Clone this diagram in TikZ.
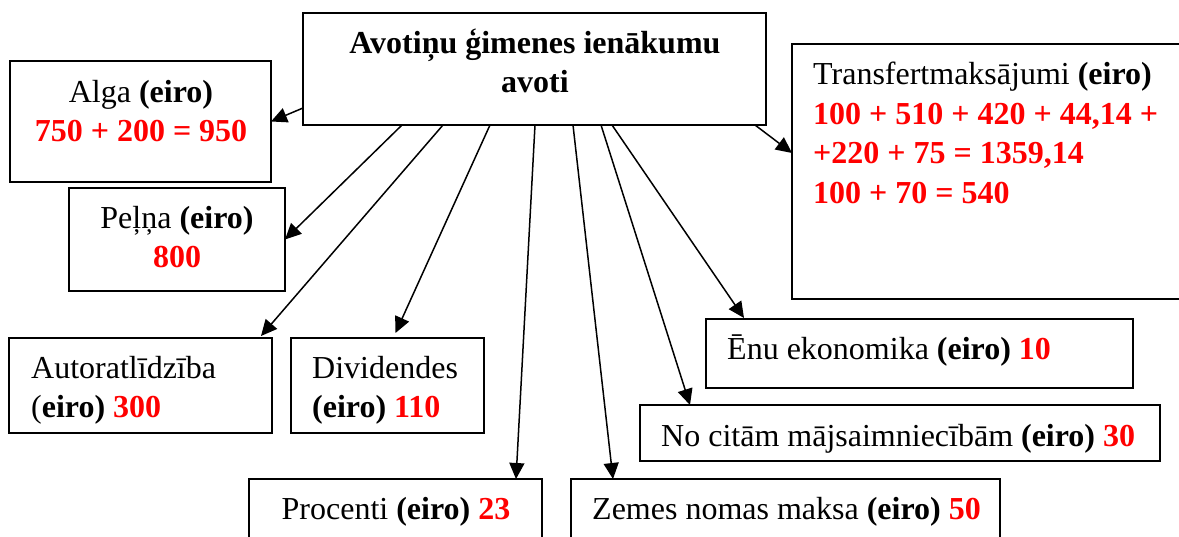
\documentclass[tikz,border=0pt]{standalone}
\usepackage{fontspec}
\setmainfont{Liberation Serif}
\usetikzlibrary{arrows.meta,calc}
\definecolor{numred}{RGB}{255,0,0}
\newcommand{\rednum}[1]{\textcolor{numred}{\textbf{#1}}}
\begin{document}
\begin{tikzpicture}[x=1pt,y=-1pt,
  box/.style={draw, line width=1.8pt, inner sep=0pt, outer sep=0pt, anchor=north west},
  arr/.style={line width=1.5pt, -{Triangle[length=16pt,width=15pt]}},
  txt/.style={inner sep=0pt, anchor=base west, font=\fontsize{32}{38}\selectfont},
  ctxt/.style={txt, anchor=base},
]
\useasboundingbox (0,0) rectangle (1179,536);
\clip (0,0) rectangle (1179,536);

% boxes
\node[box, minimum width=463pt, minimum height=112pt] (c) at (303,13) {};
\node[box, minimum width=261pt, minimum height=121pt] (alga) at (10,61) {};
\node[box, minimum width=216pt, minimum height=103pt] (pelna) at (69,188) {};
\node[box, minimum width=390pt, minimum height=255pt] (transf) at (792,44) {};
\node[box, minimum width=263pt, minimum height=95pt] (autor) at (9,338) {};
\node[box, minimum width=193pt, minimum height=95pt] (divid) at (291,338) {};
\node[box, minimum width=293pt, minimum height=80pt] (procenti) at (249,479) {};
\node[box, minimum width=429pt, minimum height=80pt] (zemes) at (571,479) {};
\node[box, minimum width=427pt, minimum height=69pt] (enu) at (706,319) {};
\node[box, minimum width=520pt, minimum height=56pt] (nocitam) at (640,405) {};

% texts
\node[ctxt] (ct1) at (535,53) {\bfseries Avotiņu ģimenes ienākumu};
\node[ctxt] (ct2) at (535,92) {\bfseries avoti};
\node[ctxt] (at1) at (141,102) {Alga \textbf{(eiro)}};
\node[ctxt] (at2) at (141,141) {\rednum{750 + 200 = 950}};
\node[ctxt] (pt1) at (177,228) {Peļņa \textbf{(eiro)}};
\node[ctxt] (pt2) at (177,267) {\rednum{800}};
\node[txt] (tt1) at (813,84) {Transfertmaksājumi \textbf{(eiro)}};
\node[txt] (tt2) at (813,124) {\rednum{100 + 510 + 420 + 44,14 +}};
\node[txt] (tt3) at (813,163) {\rednum{+220 + 75 = 1359,14}};
\node[txt] (tt4) at (813,203) {\rednum{100 + 70 = 540}};
\node[txt] (aut1) at (31,378) {Autoratlīdzība};
\node[txt] (aut2) at (31,417) {(\textbf{eiro)} \rednum{300}};
\node[txt] (dv1) at (312,378) {Dividendes};
\node[txt] (dv2) at (312,417) {\textbf{(eiro)} \rednum{110}};
\node[ctxt] (prt) at (396,519) {Procenti \textbf{(eiro)} \rednum{23}};
\node[txt] (zt) at (592,519) {Zemes nomas maksa \textbf{(eiro)} \rednum{50}};
\node[txt] (et) at (727,359) {Ēnu ekonomika \textbf{(eiro)} \rednum{10}};
\node[txt] (nt) at (661,446) {No citām mājsaimniecībām \textbf{(eiro)} \rednum{30}};

% arrows
\draw[arr] ($(c.south west)+(0,-17)$) -- (alga.east);
\draw[arr] ($(c.south west)+(99,0)$) -- (pelna.east);
\draw[arr] ($(c.south west)+(140,0)$) -- ($(autor.north east)+(-11,-2)$);
\draw[arr] ($(c.south west)+(187,0)$) -- ($(divid.north)+(8,-5)$);
\draw[arr] ($(c.south west)+(232,0)$) -- ($(procenti.north east)+(-26,0)$);
\draw[arr] ($(c.south west)+(270,0)$) -- ($(zemes.north west)+(42,0)$);
\draw[arr] ($(c.south west)+(298,0)$) -- ($(nocitam.north west)+(50,0)$);
\draw[arr] ($(c.south west)+(309,0)$) -- ($(enu.north west)+(38,-1)$);
\draw[arr] ($(c.south east)+(-11,0)$) -- ($(transf.north west)+(0,109)$);
\end{tikzpicture}
\end{document}
